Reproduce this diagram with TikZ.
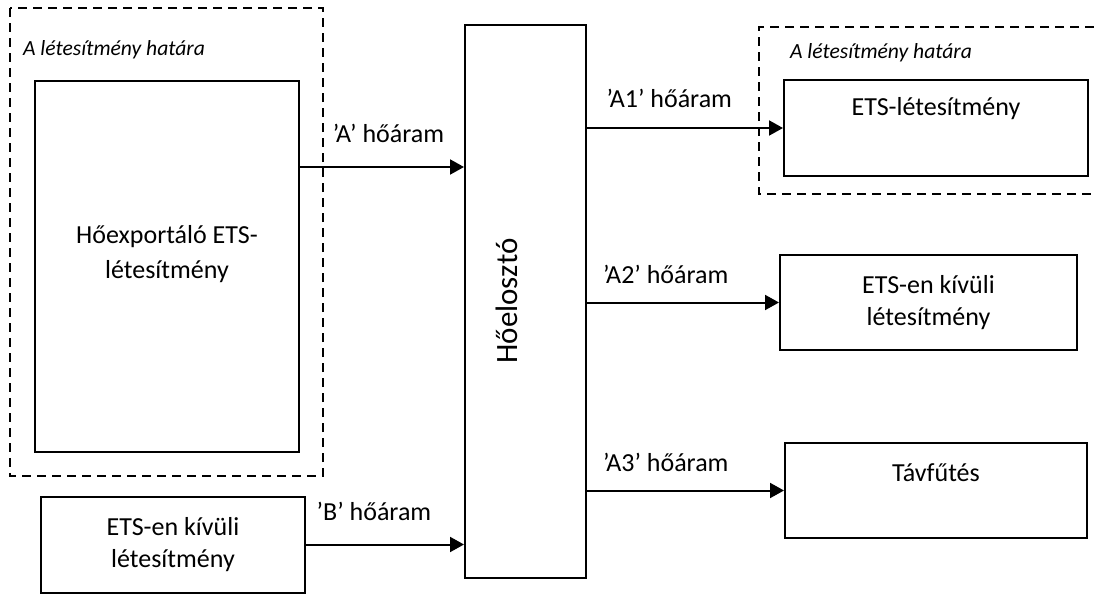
\documentclass[tikz,border=0pt]{standalone}
\usepackage{fontspec}
\setmainfont{Carlito}
\usetikzlibrary{arrows.meta}
\tikzset{
  box/.style={draw=black, line width=1pt, inner sep=0pt, align=center, font=\fontsize{13}{16}\selectfont},
  box text/.style={align=center, font=\fontsize{13}{17.5}\selectfont},
  border/.style={draw=black, line width=1pt, dash pattern=on 4.5pt off 3pt},
  border label/.style={anchor=west, font=\fontsize{10.8}{12}\selectfont\itshape},
  flow/.style={line width=1pt, arrows={-Triangle[length=7pt,width=7.5pt]}},
  flow label/.style={above=3pt, font=\fontsize{13}{16}\selectfont}
}

\begin{document}
\begin{tikzpicture}[x=0.5pt,y=-0.5pt]
  \useasboundingbox (0,0) rectangle (1094,594);

  % facility borders
  \draw[border] (10,8) rectangle (323,476);
  \node[border label] at (16,50) (border left) {A létesítmény határa};
  \draw[border] (1094,27) -- (759,27) -- (759,194) -- (1094,194);
  \node[border label] at (783,53) (border right) {A létesítmény határa};

  \node[box, minimum width=132pt, minimum height=185.5pt,
        label={[box text, yshift=6pt]center:{Hőexportáló ETS-\\létesítmény}}] at (167,266.5) (exporter) {};
  \node[box, minimum width=132pt, minimum height=48pt] at (173,544.5) (source) {ETS-en kívüli\\létesítmény};

  \node[box, minimum width=60.5pt, minimum height=276.5pt] at (525.5,301.5) (distributor) {};
  \node[rotate=90, font=\fontsize{15.5}{16}\selectfont] at (507,301) (distributor text) {Hőelosztó};

  \node[box, minimum width=152pt, minimum height=48pt,
        label={[box text, yshift=9.5pt]center:ETS-létesítmény}] at (936,128) (ets) {};
  \node[box, minimum width=148.5pt, minimum height=47.5pt] at (928.5,302.5) (outside) {ETS-en kívüli\\létesítmény};
  \node[box, minimum width=151pt, minimum height=47.5pt,
        label={[box text, yshift=9pt]center:Távfűtés}] at (936,490.5) (heating) {};

  \coordinate (flow A) at (0,167);

  \draw[flow] (exporter.east |- flow A) -- (distributor.west |- flow A)
    node[flow label, above=5.5pt, pos=0.54] (label A) {’A’ hőáram};
  \draw[flow] (source.east) -- (source.east -| distributor.west)
    node[flow label, above=5pt, pos=0.43] (label B) {’B’ hőáram};

  \draw[flow] (ets.west -| distributor.east) -- (ets.west)
    node[flow label, above=3.3pt, pos=0.42] (label A1) {’A1’ hőáram};
  \draw[flow] (outside.west -| distributor.east) -- (outside.west)
    node[flow label, above=2.5pt, pos=0.41] (label A2) {’A2’ hőáram};
  \draw[flow] (heating.west -| distributor.east) -- (heating.west)
    node[flow label, above=2.5pt, pos=0.40] (label A3) {’A3’ hőáram};
\end{tikzpicture}
\end{document}
